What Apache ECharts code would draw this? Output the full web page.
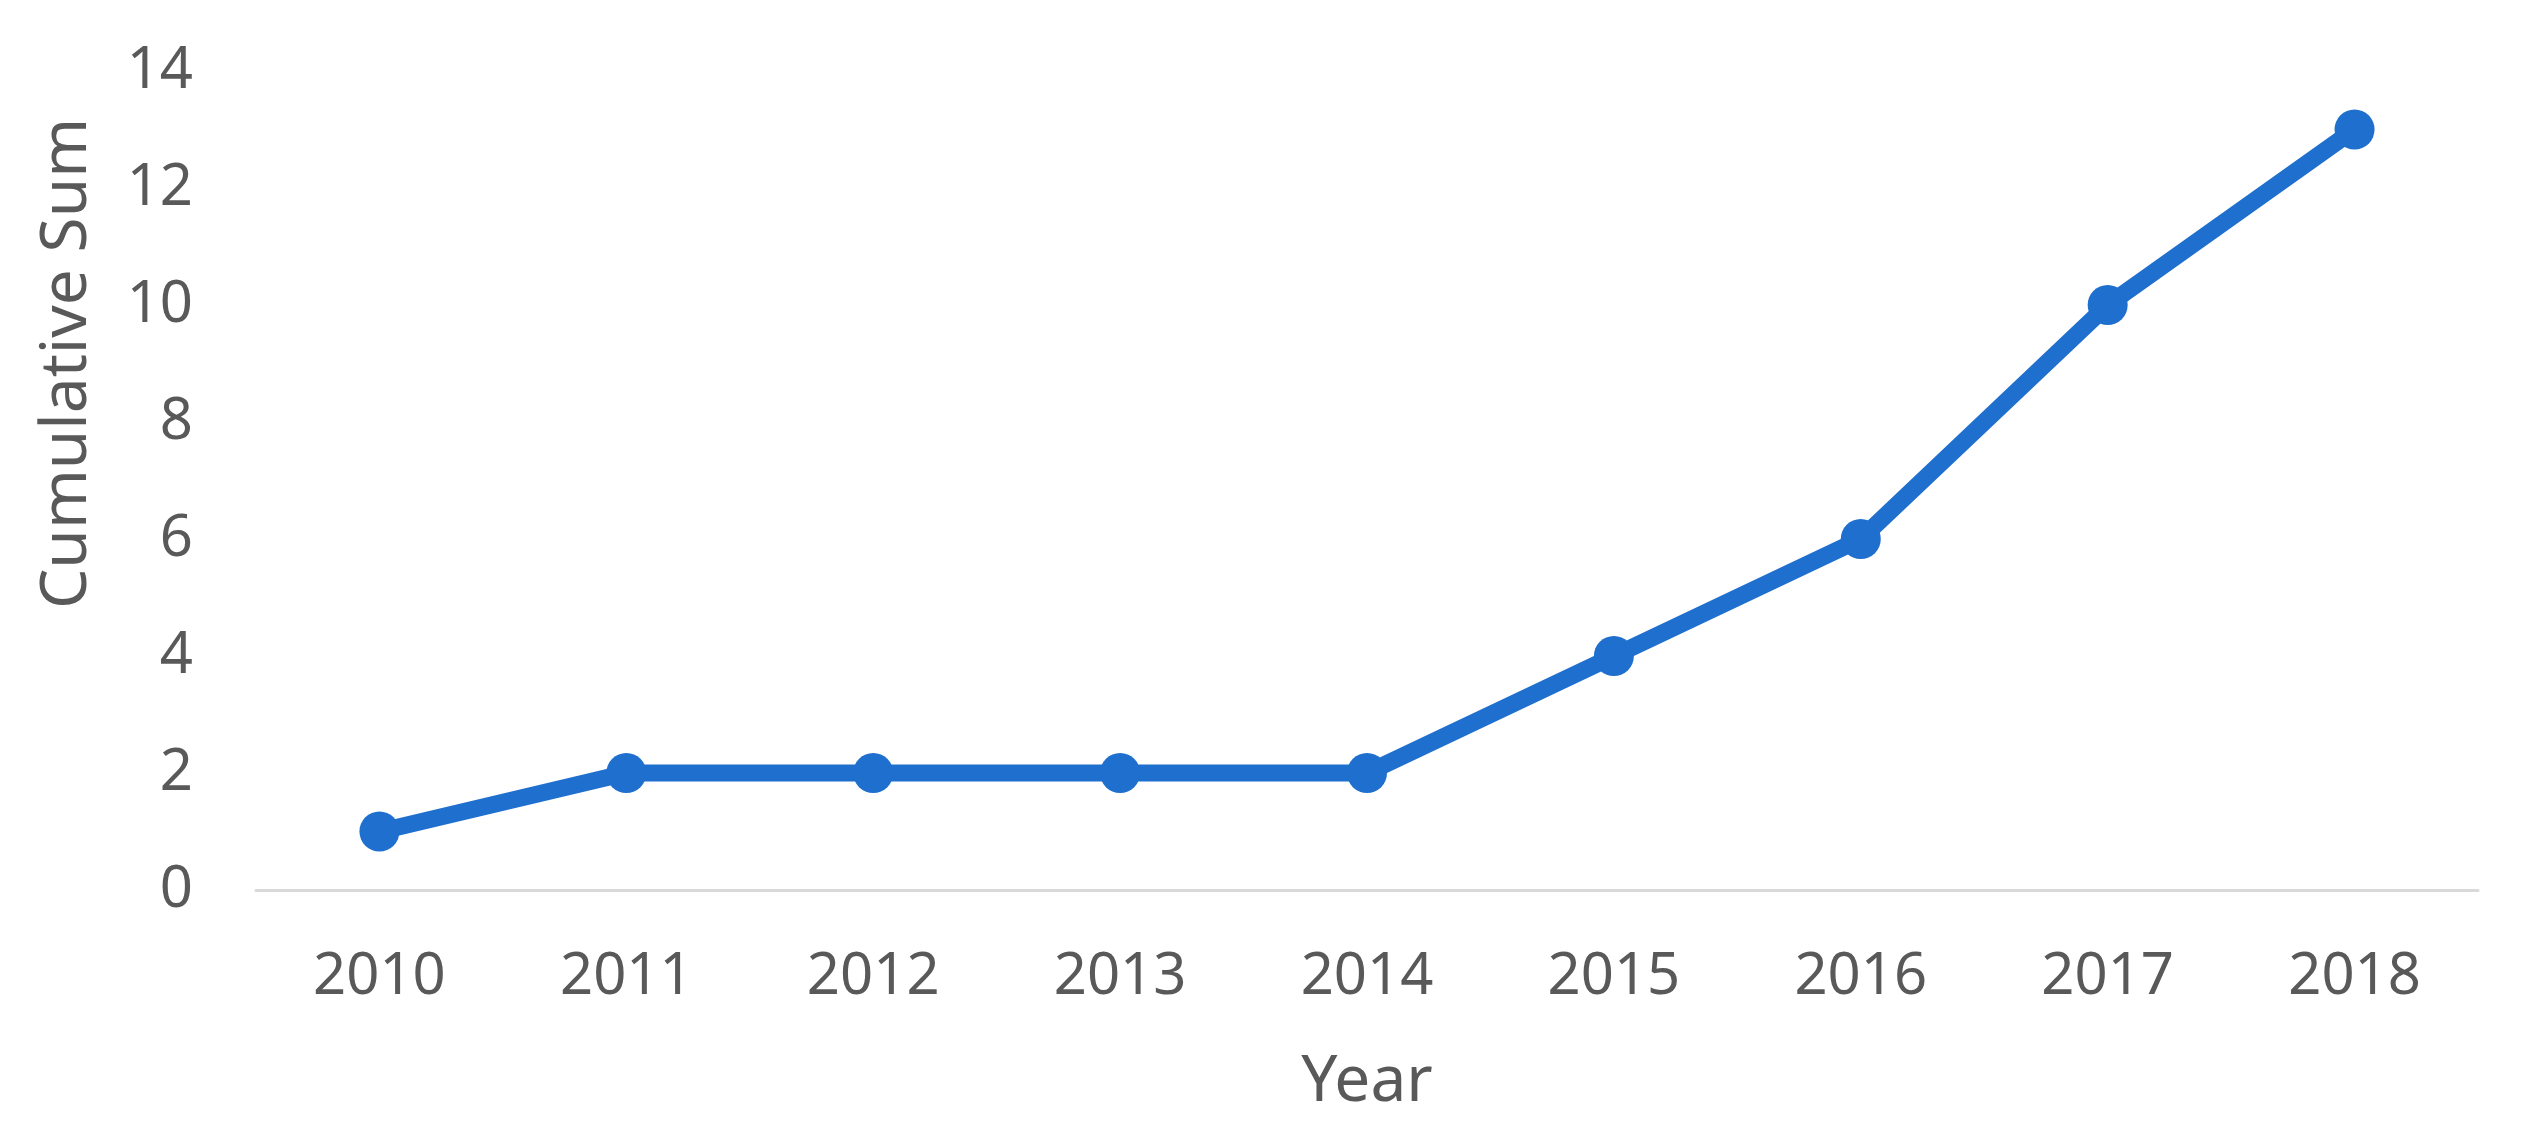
<!DOCTYPE html>
<html>
<head>
<meta charset="utf-8">
<script src="https://cdn.jsdelivr.net/npm/echarts@6/dist/echarts.min.js"></script>
<style>
html,body{margin:0;padding:0;background:#fff;}
#chart{width:2532px;height:1139px;}
</style>
</head>
<body>
<div id="chart"></div>
<script>
const years = ['2010','2011','2012','2013','2014','2015','2016','2017','2018'];
const cumulativeSum = [1, 2, 2, 2, 2, 4, 6, 10, 13];
const yMin = 0, yMax = 14, yStep = 2;
const xTitle = 'Year';
const yTitle = 'Cumulative Sum';

const FONT = '"Noto Sans", "Open Sans", sans-serif';
const TEXT = '#595959';
const chart = echarts.init(document.getElementById('chart'), null, {renderer: 'canvas'});
chart.setOption({
  animation: false,
  backgroundColor: '#ffffff',
  grid: {left: 256, right: 54, top: 71, bottom: 249, containLabel: false},
  xAxis: {
    type: 'category',
    data: years,
    boundaryGap: true,
    axisLine: {show: true, lineStyle: {color: '#d9d9d9', width: 3}},
    axisTick: {show: false},
    axisLabel: {color: TEXT, fontFamily: FONT, fontSize: 58, margin: 58},
    splitLine: {show: false},
    name: xTitle,
    nameLocation: 'middle',
    nameGap: 161,
    nameTextStyle: {color: TEXT, fontFamily: FONT, fontSize: 64}
  },
  yAxis: {
    type: 'value',
    min: yMin, max: yMax, interval: yStep,
    axisLine: {show: false},
    axisTick: {show: false},
    splitLine: {show: false},
    axisLabel: {color: TEXT, fontFamily: FONT, fontSize: 58, margin: 63},
    name: yTitle,
    nameLocation: 'middle',
    nameGap: 156,
    nameRotate: 90,
    nameTextStyle: {color: TEXT, fontFamily: FONT, fontSize: 64, padding: [0, 0, 0, 234]}
  },
  series: [{
    type: 'line',
    data: cumulativeSum,
    symbol: 'circle',
    symbolSize: 40,
    lineStyle: {color: '#1f6fce', width: 17},
    itemStyle: {color: '#1f6fce'},
    emphasis: {disabled: true}
  }]
});
</script>
</body>
</html>
